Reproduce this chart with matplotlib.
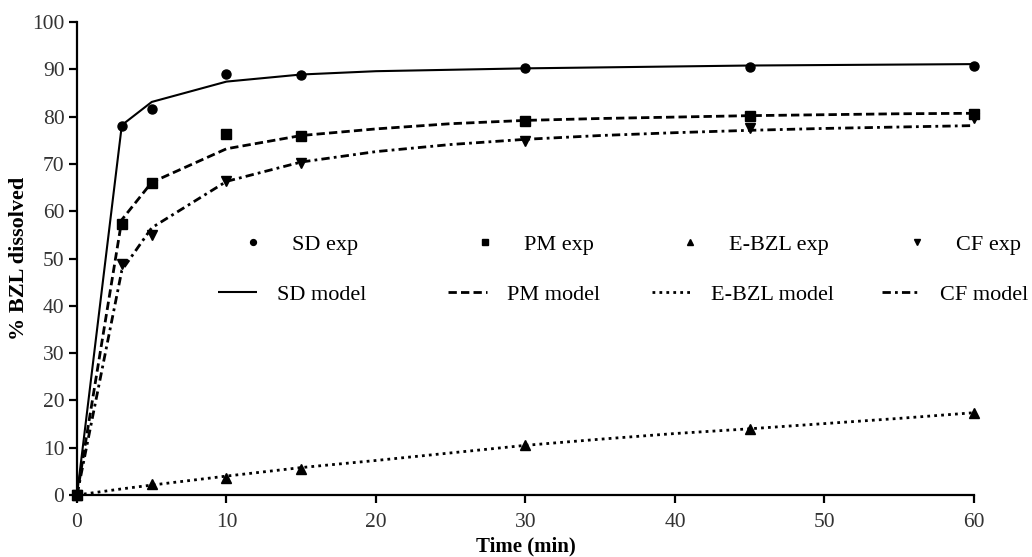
import matplotlib
matplotlib.use("Agg")
import matplotlib.pyplot as plt
from matplotlib.legend import Legend

plt.rcParams["font.family"] = ["Liberation Serif", "DejaVu Serif"]

# experimental sampling times (min) and % BZL dissolved
t_exp = [0, 3, 5, 10, 15, 30, 45, 60]
sd_exp = [0, 78.1, 81.6, 89.1, 88.9, 90.2, 90.5, 90.6]
pm_exp = [0, 57.4, 66.0, 76.3, 76.0, 79.1, 80.2, 80.6]
ebzl_exp = [0, None, 2.3, 3.5, 5.5, 10.5, 13.9, 17.4]
cf_exp = [0, 48.8, 55.0, 66.3, 70.2, 74.8, 77.5, 79.6]

# fitted model curves
t_mod = [0, 3, 5, 10, 15, 20, 25, 30, 35, 40, 45, 50, 55, 60]
sd_mod = [0, 78.2, 83.1, 87.4, 88.9, 89.6, 89.9, 90.2, 90.4, 90.6, 90.8, 90.9, 91.0, 91.1]
pm_mod = [0, 58.2, 66.1, 73.2, 76.0, 77.4, 78.5, 79.2, 79.6, 79.9, 80.2, 80.4, 80.6, 80.7]
ebzl_mod = [0, 1.3, 2.1, 4.0, 5.8, 7.3, 8.9, 10.5, 11.8, 13.0, 14.0, 15.1, 16.2, 17.4]
cf_mod = [0, 47.5, 56.5, 66.3, 70.4, 72.6, 74.1, 75.2, 76.0, 76.6, 77.1, 77.5, 77.8, 78.1]

names = ["SD", "PM", "E-BZL", "CF"]
markers = ["o", "s", "^", "v"]
msizes = [6.5, 7, 6.5, 6.5]
styles = [(0, ()), (0, (3, 1.5)), (0, (1, 1.5)), (0, (3, 1.5, 1, 1.5))]
widths = [1.5, 2.0, 2.0, 2.0]

fig = plt.figure(figsize=(10.32, 5.57), dpi=100)
ax = fig.add_axes([0.0746, 0.1113, 0.8692, 0.8492])

exp_h, mod_h = [], []
for name, ye, ym, mk, ms, ls, lw in zip(names, [sd_exp, pm_exp, ebzl_exp, cf_exp],
                                         [sd_mod, pm_mod, ebzl_mod, cf_mod],
                                         markers, msizes, styles, widths):
    x = [a for a, b in zip(t_exp, ye) if b is not None]
    y = [b for b in ye if b is not None]
    h1, = ax.plot(x, y, ls="none", marker=mk, ms=ms, color="black",
                  clip_on=False, zorder=3, label=f"{name} exp")
    h2, = ax.plot(t_mod, ym, ls=ls, lw=lw, color="black", clip_on=False,
                  zorder=2, label=f"{name} model")
    exp_h.append(h1)
    mod_h.append(h2)

ax.set_xlim(0, 60)
ax.set_ylim(0, 100)
ax.set_xticks(range(0, 61, 10))
ax.set_yticks(range(0, 101, 10))
for s in ("top", "right"):
    ax.spines[s].set_visible(False)
for s in ("left", "bottom"):
    ax.spines[s].set_linewidth(1.6)
ax.tick_params(direction="out", length=6, width=1.6, labelsize=15.5,
               labelcolor="#333333")
ax.tick_params(axis="x", pad=7)
ax.tick_params(axis="y", pad=3)
ax.set_xlabel("Time (min)", fontsize=15, fontweight="bold", labelpad=3)
ax.set_ylabel("% BZL dissolved", fontsize=16, fontweight="bold", labelpad=2)

# legend: one small legend per entry, laid out as 2 rows x 4 columns
exp_x = [0.184, 0.443, 0.671, 0.924]   # left edge of marker handle (axes fraction)
mod_x = [0.157, 0.414, 0.641, 0.897]   # left edge of line handle
row_y = [0.529, 0.423]
for i in range(4):
    ax.add_artist(Legend(ax, [exp_h[i]], [exp_h[i].get_label()], loc="center left",
                         bbox_to_anchor=(exp_x[i], row_y[0]), frameon=False,
                         fontsize=16, handlelength=1.0, handletextpad=1.25,
                         borderpad=0, borderaxespad=0, numpoints=1,
                         markerscale=0.65))
    ax.add_artist(Legend(ax, [mod_h[i]], [mod_h[i].get_label()], loc="center left",
                         bbox_to_anchor=(mod_x[i], row_y[1]), frameon=False,
                         fontsize=16, handlelength=1.75, handletextpad=0.9,
                         borderpad=0, borderaxespad=0))

fig.savefig("out.png", dpi=100)
